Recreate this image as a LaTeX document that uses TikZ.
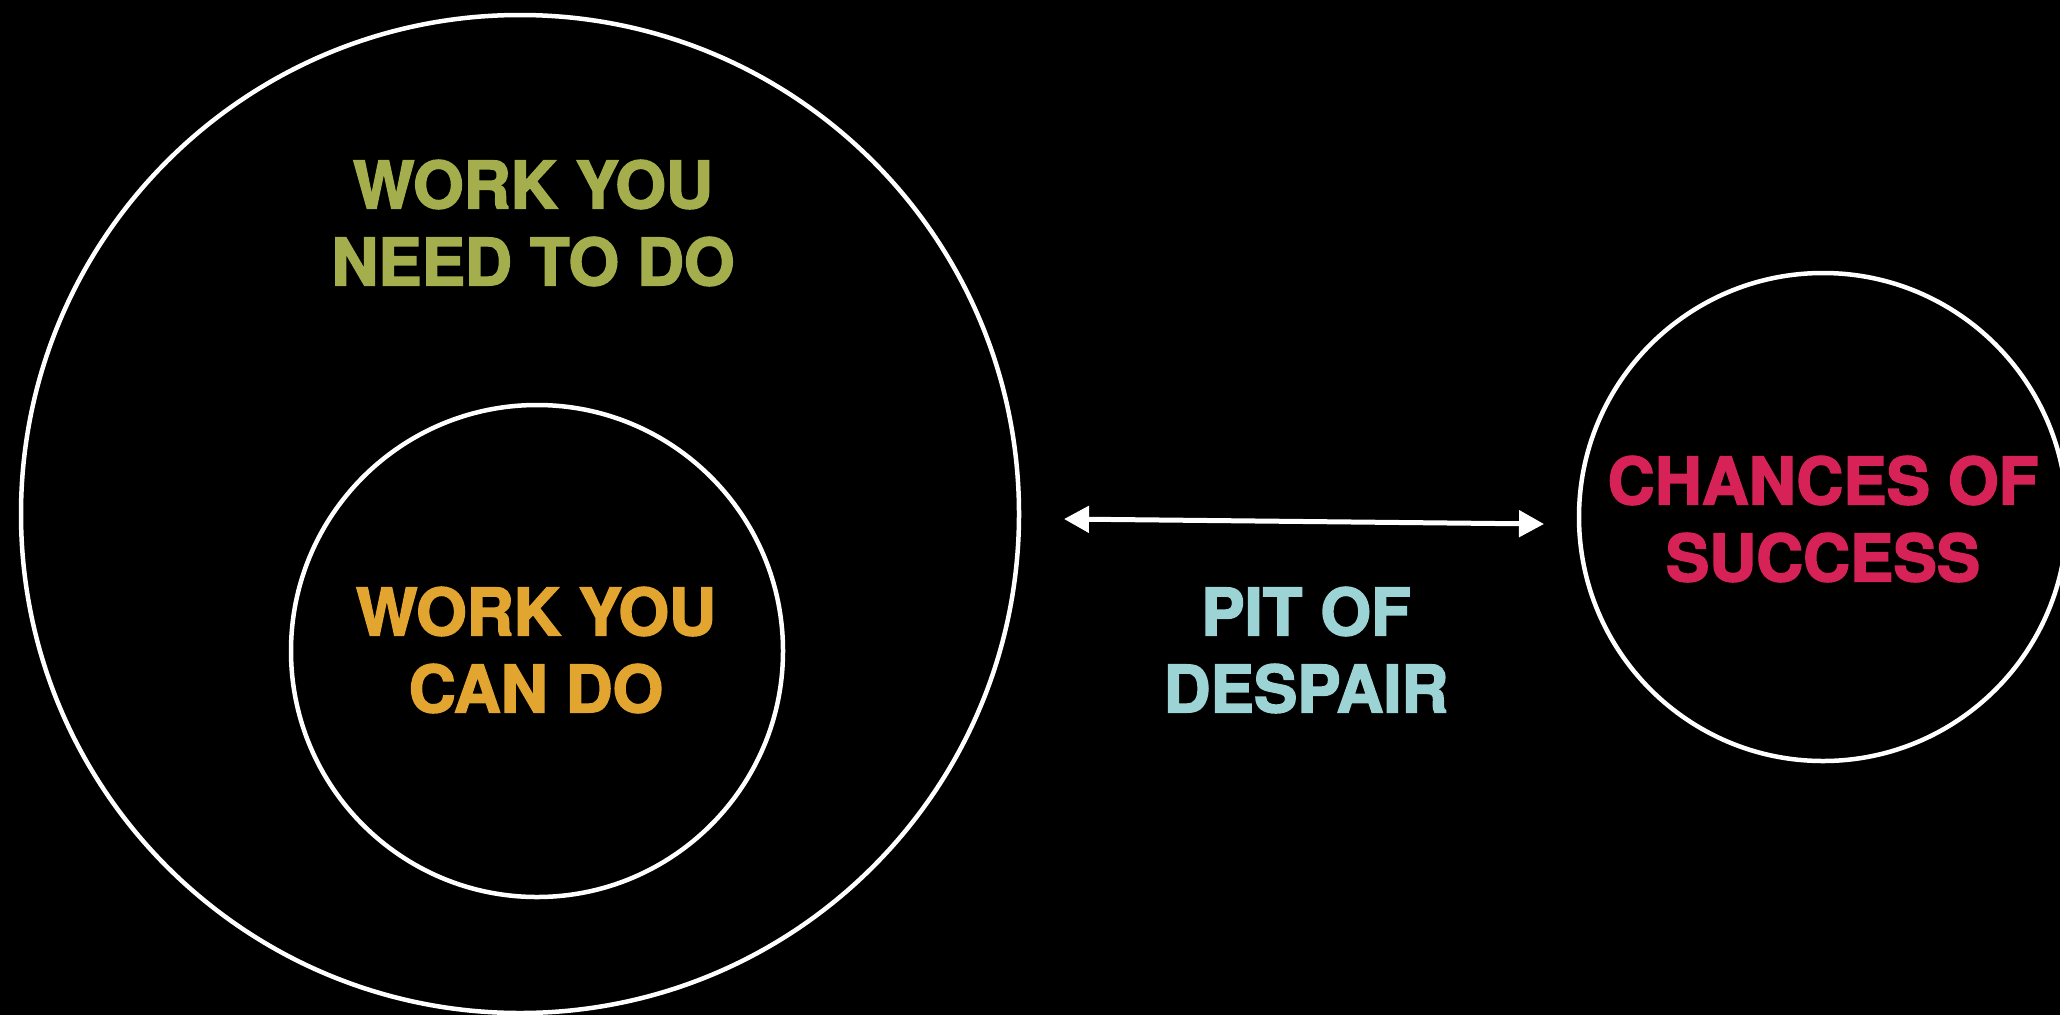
\documentclass[tikz,border=0pt]{standalone}
\usepackage{fontspec}
\setmainfont{TeX Gyre Heros}[BoldFeatures={FakeBold=2.5}]
\usetikzlibrary{arrows.meta}
\definecolor{needgreen}{HTML}{A5AE4C}
\definecolor{canorange}{HTML}{E2A530}
\definecolor{pitblue}{HTML}{9CD3D5}
\definecolor{succred}{HTML}{D62257}
\tikzset{
  ring/.style={circle, draw=white, line width=4.5pt, inner sep=0pt},
  label/.style={align=center, font=\bfseries\fontsize{65}{77}\selectfont, inner sep=0pt},
  link/.style={draw=white, line width=5pt, {Triangle[length=25pt,width=26pt]}-{Triangle[length=25pt,width=26pt]}}
}
\begin{document}
\begin{tikzpicture}[x=1pt,y=-1pt]
\useasboundingbox (0,0) rectangle (2060,1015);
\clip (0,0) rectangle (2060,1015);
\fill[black] (0,0) rectangle (2060,1015);
\node[ring, minimum size=998pt] (big) at (520,514) {};
\node[ring, minimum size=492pt] (inner) at (537,651) {};
\node[ring, minimum size=488pt] (success) at (1823,517) {};
\node[label, text=needgreen] (needtxt) at (533,223) {WORK YOU\\NEED TO DO};
\node[label, text=canorange] (cantxt) at (536,650) {WORK YOU\\CAN DO};
\node[label, text=pitblue] (pittxt) at (1306,650) {PIT OF\\DESPAIR};
\node[label, text=succred] (succtxt) at (1823,519) {CHANCES OF\\SUCCESS};
\coordinate (aL) at (1064,519);
\coordinate (aR) at (1544,524);
\draw[link] (aL) -- (aR);
\end{tikzpicture}
\end{document}
